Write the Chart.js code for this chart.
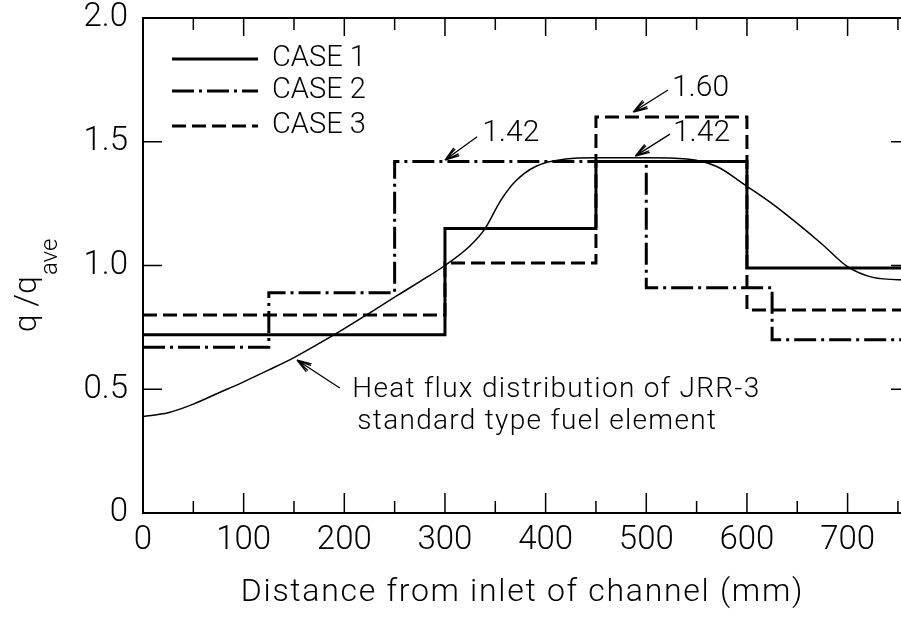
<!DOCTYPE html>
<html>
<head>
<meta charset="utf-8">
<script src="https://cdn.jsdelivr.net/npm/chart.js@4.4.0/dist/chart.umd.min.js"></script>
<style>
html, body { margin: 0; padding: 0; background: #fff; overflow: hidden; }
#wrap { position: relative; width: 912px; height: 618px; }
</style>
</head>
<body>
<div id="wrap"><canvas id="chart"></canvas></div>
<script>
// step profiles: value holds from each breakpoint to the next one
const case1X = [0, 300, 450, 600, 762];
const case1Y = [0.72, 1.15, 1.42, 0.99, 0.99];
const case2X = [0, 125, 250, 500, 625, 762];
const case2Y = [0.67, 0.89, 1.42, 0.91, 0.70, 0.70];
const case3X = [0, 300, 450, 600, 762];
const case3Y = [0.80, 1.01, 1.60, 0.82, 0.82];

// JRR-3 standard fuel element heat flux
const fluxX = [0, 25, 50, 75, 100, 125, 150, 175, 200, 225, 250, 275, 300, 325, 340, 355, 370, 390, 420, 450, 500, 540, 570, 600, 625, 650, 675, 700, 725, 762];
const fluxY = [0.39, 0.405, 0.44, 0.485, 0.53, 0.578, 0.628, 0.685, 0.745, 0.808, 0.872, 0.935, 1.00, 1.08, 1.15, 1.26, 1.34, 1.40, 1.43, 1.435, 1.435, 1.43, 1.40, 1.32, 1.25, 1.17, 1.085, 0.995, 0.952, 0.94];

const xTicks = [0, 100, 200, 300, 400, 500, 600, 700];
const xMinorTicks = [50, 150, 250, 350, 450, 550, 650, 750];
const yTicks = [0, 0.5, 1.0, 1.5, 2.0];
const yTickLabels = ['0', '0.5', '1.0', '1.5', '2.0'];
const xTitle = 'Distance from inlet of channel (mm)';

const FONT = 'Roboto';
const ink = '#000';

const toPoints = (xs, ys) => xs.map((x, i) => ({ x, y: ys[i] }));

// callouts, in data units
const callouts = [
    { lines: ['1.42'], at: [337, 1.535], from: [332, 1.52], to: [300, 1.426], size: 30 },
    { lines: ['1.60'], at: [525.5, 1.717], from: [521.5, 1.709], to: [487, 1.62], size: 30 },
    { lines: ['1.42'], at: [526.5, 1.535], from: [523.5, 1.531], to: [489, 1.442], size: 30 },
    { lines: ['Heat flux distribution of JRR-3', 'standard type fuel element'], at: [208, 0.497], from: [195.5, 0.505], to: [153, 0.618], size: 28, indent: 5, gap: 32, spacing: 1.3 },
];

const drawArrow = (ctx, x0, y0, x1, y1) => {
    const ang = Math.atan2(y1 - y0, x1 - x0);
    ctx.beginPath();
    ctx.moveTo(x0, y0);
    ctx.lineTo(x1, y1);
    [-0.32, -0.2, 0.2, 0.32].forEach(d => {
        ctx.moveTo(x1, y1);
        ctx.lineTo(x1 - 15 * Math.cos(ang + d), y1 - 15 * Math.sin(ang + d));
    });
    ctx.stroke();
};

const framePlugin = {
    id: 'frame',
    afterDatasetsDraw(chart) {
        const { ctx, chartArea: a, scales: { x, y } } = chart;
        ctx.save();
        ctx.strokeStyle = ink;
        ctx.lineWidth = 2;
        ctx.strokeRect(a.left, a.top, a.right - a.left, a.bottom - a.top);

        ctx.lineWidth = 1.5;
        ctx.beginPath();
        xTicks.forEach(v => {
            const px = x.getPixelForValue(v);
            ctx.moveTo(px, a.bottom); ctx.lineTo(px, a.bottom - 20);
            ctx.moveTo(px, a.top); ctx.lineTo(px, a.top + 18);
        });
        xMinorTicks.forEach(v => {
            const px = x.getPixelForValue(v);
            ctx.moveTo(px, a.bottom); ctx.lineTo(px, a.bottom - 12);
            ctx.moveTo(px, a.top); ctx.lineTo(px, a.top + 12);
        });
        yTicks.slice(1, -1).forEach(v => {
            const py = y.getPixelForValue(v);
            ctx.moveTo(a.left, py); ctx.lineTo(a.left + 19, py);
            ctx.moveTo(a.right, py); ctx.lineTo(a.right - 19, py);
        });
        ctx.stroke();

        // legend
        ctx.fillStyle = ink;
        ctx.font = `300 29px ${FONT}`;
        ctx.textBaseline = 'middle';
        const legendY = [a.top + 41, a.top + 73, a.top + 108];
        chart.data.datasets.slice(0, 3).forEach((ds, i) => {
            ctx.lineWidth = ds.borderWidth;
            ctx.setLineDash(ds.borderDash || []);
            ctx.beginPath();
            ctx.moveTo(a.left + 29, legendY[i]);
            ctx.lineTo(a.left + 115, legendY[i]);
            ctx.stroke();
            ctx.fillText(ds.label, a.left + 129, legendY[i]);
        });
        ctx.setLineDash([]);

        // callouts with arrows
        ctx.lineWidth = 1.3;
        callouts.forEach(c => {
            ctx.font = `300 ${c.size}px ${FONT}`;
            ctx.letterSpacing = `${c.spacing || 0}px`;
            const tx = x.getPixelForValue(c.at[0]);
            const ty = y.getPixelForValue(c.at[1]);
            c.lines.forEach((t, i) => ctx.fillText(t, tx + (i ? c.indent : 0), ty + i * (c.gap || 0)));
            drawArrow(ctx, x.getPixelForValue(c.from[0]), y.getPixelForValue(c.from[1]),
                x.getPixelForValue(c.to[0]), y.getPixelForValue(c.to[1]));
        });

        // x title, spaced out like the lettering in the source
        ctx.font = `300 32px ${FONT}`;
        ctx.letterSpacing = '1.7px';
        ctx.textAlign = 'center';
        ctx.fillText(xTitle, (a.left + a.right) / 2 - 4, a.bottom + 80);
        ctx.textAlign = 'left';
        ctx.letterSpacing = '0px';

        // y title: q/q with subscript "ave"
        ctx.translate(a.left - 107, y.getPixelForValue(0.73));
        ctx.rotate(-Math.PI / 2);
        ctx.textBaseline = 'alphabetic';
        ctx.font = `300 32px ${FONT}`;
        ctx.fillText('q /q', 0, 0);
        const w = ctx.measureText('q /q').width;
        ctx.font = `300 24px ${FONT}`;
        ctx.fillText('ave', w + 1, 21);
        ctx.restore();
    }
};

const lineSet = (label, xs, ys, dash) => ({
    label,
    data: toPoints(xs, ys),
    stepped: 'before',
    borderColor: ink,
    borderWidth: 3,
    borderDash: dash,
    pointRadius: 0,
    fill: false,
});

const buildChart = () => {
    const ctx = document.getElementById('chart');
    return new Chart(ctx, {
        type: 'line',
        data: {
            datasets: [
                lineSet('CASE 1', case1X, case1Y, []),
                lineSet('CASE 2', case2X, case2Y, [22, 5, 3, 5]),
                lineSet('CASE 3', case3X, case3Y, [14, 6]),
                {
                    label: 'Heat flux',
                    data: toPoints(fluxX, fluxY),
                    borderColor: ink,
                    borderWidth: 1.5,
                    pointRadius: 0,
                    cubicInterpolationMode: 'monotone',
                    fill: false,
                },
            ],
        },
        options: {
            responsive: true,
            maintainAspectRatio: false,
            animation: false,
            layout: { padding: { top: 18, right: 2, left: 0, bottom: 0 } },
            plugins: { legend: { display: false }, tooltip: { enabled: false } },
            scales: {
                x: {
                    type: 'linear',
                    min: 0,
                    max: 762,
                    grid: { display: false, drawTicks: false },
                    border: { display: false },
                    afterBuildTicks: (scale) => { scale.ticks = xTicks.map(v => ({ value: v })); },
                    afterFit: (scale) => { scale.height = 105; },
                    ticks: {
                        color: ink,
                        padding: 8,
                        maxRotation: 0,
                        autoSkip: false,
                        font: { family: FONT, size: 33, weight: '300' },
                    },
                },
                y: {
                    min: 0,
                    max: 2,
                    grid: { display: false, drawTicks: false },
                    border: { display: false },
                    afterBuildTicks: (scale) => { scale.ticks = yTicks.map(v => ({ value: v })); },
                    afterFit: (scale) => { scale.width = 143; scale.paddingTop = 0; },
                    ticks: {
                        color: ink,
                        padding: 15,
                        autoSkip: false,
                        font: { family: FONT, size: 33, weight: '300', lineHeight: 0.6 },
                        callback: (v, i) => yTickLabels[i],
                    },
                },
            },
        },
        plugins: [framePlugin],
    });
};

buildChart();
</script>
</body>
</html>
